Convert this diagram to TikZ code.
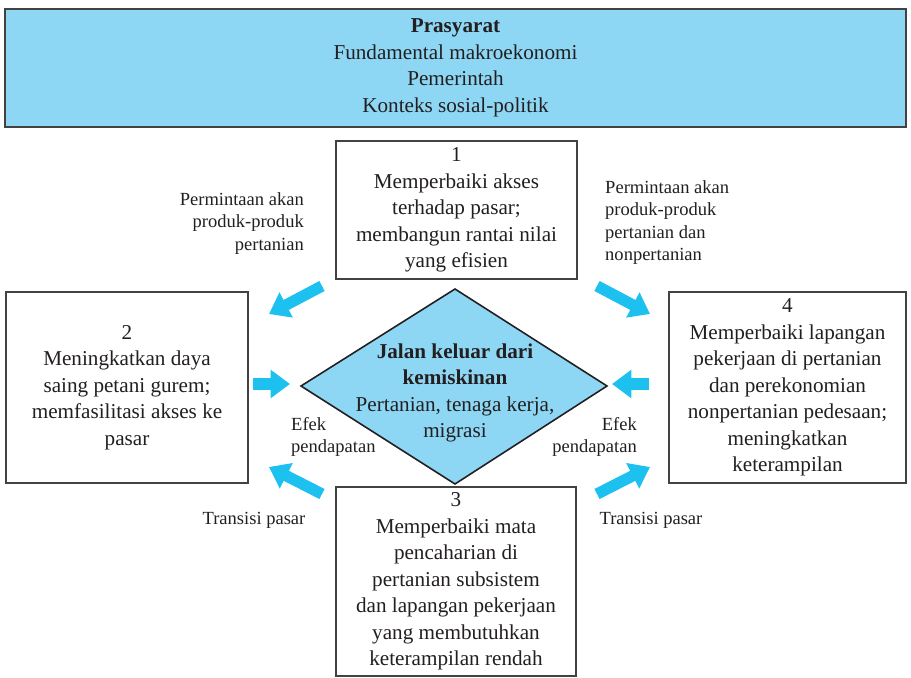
\documentclass[tikz,border=0pt]{standalone}
\usepackage{fontspec}
\setmainfont{Liberation Serif}
\usetikzlibrary{arrows.meta}
\definecolor{birumuda}{HTML}{8DD7F5}
\definecolor{birupanah}{HTML}{1DC1F0}
\definecolor{tinta}{HTML}{231F20}
\begin{document}
\begin{tikzpicture}[x=0.567pt, y=-0.567pt, font=\fontsize{12}{15}\selectfont, text=tinta,
    kotak/.style={draw=tinta!85, line width=.9pt, fill=white, align=center, inner sep=0pt},
    ket/.style={font=\fontsize{10.5}{12.8}\selectfont},
    panah/.style={birupanah, line width=6.4pt, -{Triangle[length=11pt, width=15.5pt]}}]
            \def\px{0.567pt}
            \useasboundingbox (0,0) rectangle (911,678);
            \node[kotak, fill=birumuda, minimum width=901*\px, minimum height=118*\px] (prasyarat) at (455.5,68)
                {\textbf{Prasyarat}\\Fundamental makroekonomi\\Pemerintah\\Konteks sosial-politik};
            \node[kotak, minimum width=241*\px, minimum height=138*\px] (satu) at (456.5,210)
                {1\\Memperbaiki akses\\terhadap pasar;\\membangun rantai nilai\\yang efisien};
            \node[kotak, minimum width=242*\px, minimum height=191*\px] (dua) at (127,387.5)
                {2\\Meningkatkan daya\\saing petani gurem;\\memfasilitasi akses ke\\pasar};
            \node[kotak, minimum width=237*\px, minimum height=191*\px] (empat) at (787.5,387.5)
                {4\\Memperbaiki lapangan\\pekerjaan di pertanian\\dan perekonomian\\nonpertanian pedesaan;\\meningkatkan\\keterampilan};
            \node[kotak, minimum width=240*\px, minimum height=189*\px] (tiga) at (456,581.5)
                {3\\Memperbaiki mata\\pencaharian di\\pertanian subsistem\\dan lapangan pekerjaan\\yang membutuhkan\\keterampilan rendah};
            \draw[draw=tinta, line width=.9pt, fill=birumuda] (455,289) -- (607,386) -- (455,484) -- (301,386) -- cycle;
            \node[align=center] (jalan) at (455,393)
                {\textbf{Jalan keluar dari}\\\textbf{kemiskinan}\\Pertanian, tenaga kerja,\\migrasi};
            \node[ket, align=right, anchor=north east] (minta1) at (310,186) {Permintaan akan\\produk-produk\\pertanian};
            \node[ket, align=left, anchor=north west] (minta2) at (599,174) {Permintaan akan\\produk-produk\\pertanian dan\\nonpertanian};
            \node[ket, align=left, anchor=north west] (efek1) at (285,411) {Efek\\pendapatan};
            \node[ket, align=right, anchor=north east] (efek2) at (643,411) {Efek\\pendapatan};
            \node[ket] (transisi1) at (254,520) {Transisi pasar};
            \node[ket] (transisi2) at (651,520) {Transisi pasar};
            \coordinate (p1) at (322,286); \coordinate (q1) at (269,314);
            \coordinate (p2) at (597,286); \coordinate (q2) at (650,314);
            \coordinate (p3) at (253,384); \coordinate (q3) at (290,384);
            \coordinate (p4) at (649,384); \coordinate (q4) at (612,384);
            \coordinate (p5) at (322,494); \coordinate (q5) at (269,467);
            \coordinate (p6) at (597,494); \coordinate (q6) at (650,467);
            \foreach \i in {1,...,6}
            \draw[panah] (p\i)--(q\i);
        \end{tikzpicture}
\end{document}
